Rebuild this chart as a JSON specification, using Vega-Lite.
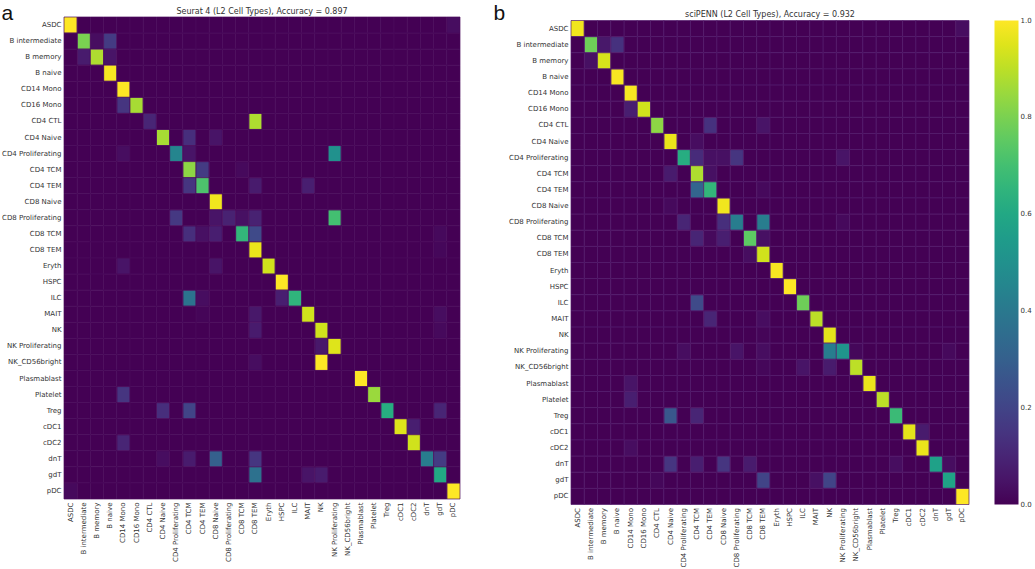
{"$schema":"https://vega.github.io/schema/vega-lite/v6.json","padding":{"left":1,"top":2,"right":0,"bottom":0},"background":"white","spacing":32,
"config":{"view":{"stroke":null},"font":"DejaVu Sans","axis":{"domain":false,"ticks":false,"grid":false,"labelFontSize":7,"labelColor":"#333333","labelPadding":3,"labelFont":"DejaVu Sans"},"title":{"font":"DejaVu Sans","fontSize":8,"fontWeight":"normal","color":"#333333"}},
"resolve":{"scale":{"color":"shared"}},
"hconcat":[
{"width":396,"height":482,"title":{"text":"Seurat 4 (L2 Cell Types), Accuracy = 0.897","offset":3,"dy":16},
"data":{"values":[
{"y":"ASDC","x":"ASDC","v":1},{"y":"ASDC","x":"pDC","v":0.03},
{"y":"B intermediate","x":"B intermediate","v":0.8},{"y":"B intermediate","x":"B memory","v":0.03},{"y":"B intermediate","x":"B naive","v":0.17},
{"y":"B memory","x":"B intermediate","v":0.07},{"y":"B memory","x":"B memory","v":0.88},{"y":"B memory","x":"B naive","v":0.05},
{"y":"B naive","x":"B naive","v":0.99},
{"y":"CD14 Mono","x":"CD14 Mono","v":1},
{"y":"CD16 Mono","x":"CD14 Mono","v":0.15},{"y":"CD16 Mono","x":"CD16 Mono","v":0.87},
{"y":"CD4 CTL","x":"CD4 CTL","v":0.1},{"y":"CD4 CTL","x":"CD8 TEM","v":0.88},
{"y":"CD4 Naive","x":"CD4 Naive","v":0.87},{"y":"CD4 Naive","x":"CD4 TCM","v":0.13},{"y":"CD4 Naive","x":"CD8 Naive","v":0.05},
{"y":"CD4 Proliferating","x":"CD14 Mono","v":0.03},{"y":"CD4 Proliferating","x":"CD4 Proliferating","v":0.45},{"y":"CD4 Proliferating","x":"CD4 TCM","v":0.05},{"y":"CD4 Proliferating","x":"NK Proliferating","v":0.5},
{"y":"CD4 TCM","x":"CD4 TCM","v":0.83},{"y":"CD4 TCM","x":"CD4 TEM","v":0.17},{"y":"CD4 TCM","x":"CD8 TCM","v":0.02},
{"y":"CD4 TEM","x":"CD4 TCM","v":0.15},{"y":"CD4 TEM","x":"CD4 TEM","v":0.72},{"y":"CD4 TEM","x":"CD8 TEM","v":0.07},{"y":"CD4 TEM","x":"MAIT","v":0.08},
{"y":"CD8 Naive","x":"CD8 Naive","v":0.98},
{"y":"CD8 Proliferating","x":"CD4 Proliferating","v":0.16},{"y":"CD8 Proliferating","x":"CD8 Naive","v":0.05},{"y":"CD8 Proliferating","x":"CD8 Proliferating","v":0.09},{"y":"CD8 Proliferating","x":"CD8 TCM","v":0.04},{"y":"CD8 Proliferating","x":"CD8 TEM","v":0.09},{"y":"CD8 Proliferating","x":"NK Proliferating","v":0.7},
{"y":"CD8 TCM","x":"CD4 TCM","v":0.13},{"y":"CD8 TCM","x":"CD4 TEM","v":0.04},{"y":"CD8 TCM","x":"CD8 Naive","v":0.08},{"y":"CD8 TCM","x":"CD8 TCM","v":0.66},{"y":"CD8 TCM","x":"CD8 TEM","v":0.22},{"y":"CD8 TCM","x":"gdT","v":0.02},
{"y":"CD8 TEM","x":"CD8 TEM","v":0.97},{"y":"CD8 TEM","x":"gdT","v":0.015},
{"y":"Eryth","x":"CD14 Mono","v":0.05},{"y":"Eryth","x":"CD8 Naive","v":0.05},{"y":"Eryth","x":"Eryth","v":0.93},
{"y":"HSPC","x":"HSPC","v":1},
{"y":"ILC","x":"CD4 TCM","v":0.38},{"y":"ILC","x":"CD4 TEM","v":0.03},{"y":"ILC","x":"HSPC","v":0.08},{"y":"ILC","x":"ILC","v":0.65},
{"y":"MAIT","x":"CD4 TEM","v":0.01},{"y":"MAIT","x":"CD8 TEM","v":0.06},{"y":"MAIT","x":"MAIT","v":0.93},{"y":"MAIT","x":"gdT","v":0.03},
{"y":"NK","x":"CD8 TEM","v":0.07},{"y":"NK","x":"NK","v":0.93},{"y":"NK","x":"gdT","v":0.02},
{"y":"NK Proliferating","x":"NK","v":0.06},{"y":"NK Proliferating","x":"NK Proliferating","v":0.95},
{"y":"NK_CD56bright","x":"CD8 TEM","v":0.03},{"y":"NK_CD56bright","x":"NK","v":1},
{"y":"Plasmablast","x":"Plasmablast","v":1},
{"y":"Platelet","x":"CD14 Mono","v":0.15},{"y":"Platelet","x":"Platelet","v":0.85},
{"y":"Treg","x":"CD4 Naive","v":0.13},{"y":"Treg","x":"CD4 TCM","v":0.2},{"y":"Treg","x":"Treg","v":0.62},{"y":"Treg","x":"gdT","v":0.1},
{"y":"cDC1","x":"cDC1","v":0.95},{"y":"cDC1","x":"cDC2","v":0.08},
{"y":"cDC2","x":"CD14 Mono","v":0.1},{"y":"cDC2","x":"cDC2","v":0.93},
{"y":"dnT","x":"CD4 Naive","v":0.03},{"y":"dnT","x":"CD4 TCM","v":0.07},{"y":"dnT","x":"CD8 Naive","v":0.3},{"y":"dnT","x":"CD8 TEM","v":0.15},{"y":"dnT","x":"dnT","v":0.42},{"y":"dnT","x":"gdT","v":0.17},
{"y":"gdT","x":"CD8 TEM","v":0.37},{"y":"gdT","x":"MAIT","v":0.05},{"y":"gdT","x":"NK","v":0.07},{"y":"gdT","x":"gdT","v":0.6},
{"y":"pDC","x":"ASDC","v":0.02},{"y":"pDC","x":"pDC","v":1}
]},
"transform":[{"impute":"v","key":"x","groupby":["y"],"value":0,"keyvals":["ASDC","B intermediate","B memory","B naive","CD14 Mono","CD16 Mono","CD4 CTL","CD4 Naive","CD4 Proliferating","CD4 TCM","CD4 TEM","CD8 Naive","CD8 Proliferating","CD8 TCM","CD8 TEM","Eryth","HSPC","ILC","MAIT","NK","NK Proliferating","NK_CD56bright","Plasmablast","Platelet","Treg","cDC1","cDC2","dnT","gdT","pDC"]}],
"mark":{"type":"rect","stroke":"#4a0b5c","strokeWidth":0.7},
"encoding":{
"x":{"field":"x","type":"nominal","title":null,"sort":null,"scale":{"domain":["ASDC","B intermediate","B memory","B naive","CD14 Mono","CD16 Mono","CD4 CTL","CD4 Naive","CD4 Proliferating","CD4 TCM","CD4 TEM","CD8 Naive","CD8 Proliferating","CD8 TCM","CD8 TEM","Eryth","HSPC","ILC","MAIT","NK","NK Proliferating","NK_CD56bright","Plasmablast","Platelet","Treg","cDC1","cDC2","dnT","gdT","pDC"]},"axis":{"labelAngle":-90,"labelAlign":"right","labelBaseline":"middle"}},
"y":{"field":"y","type":"nominal","sort":null,"scale":{"domain":["ASDC","B intermediate","B memory","B naive","CD14 Mono","CD16 Mono","CD4 CTL","CD4 Naive","CD4 Proliferating","CD4 TCM","CD4 TEM","CD8 Naive","CD8 Proliferating","CD8 TCM","CD8 TEM","Eryth","HSPC","ILC","MAIT","NK","NK Proliferating","NK_CD56bright","Plasmablast","Platelet","Treg","cDC1","cDC2","dnT","gdT","pDC"]},"axis":{"title":"a","titleAngle":0,"titleX":-63,"titleY":2.5,"titleAlign":"left","titleBaseline":"alphabetic","titleFontSize":21,"titleFontWeight":"normal","titleFont":"Liberation Sans","titleColor":"#111111"}},
"color":{"field":"v","type":"quantitative","scale":{"scheme":"viridis","domain":[0,1]},"legend":{"title":null,"gradientLength":484,"gradientThickness":24,"tickCount":6,"format":".1f","labelFontSize":7,"labelColor":"#333333","offset":20.5,"padding":3.5,"labelOverlap":false,"encode":{"labels":{"update":{"baseline":{"value":"middle"}}}}}}
}},
{"width":398,"height":487.5,"title":{"text":"sciPENN (L2 Cell Types), Accuracy = 0.932","offset":3,"dy":19.5},
"data":{"values":[
{"y":"ASDC","x":"ASDC","v":0.98},{"y":"ASDC","x":"pDC","v":0.03},
{"y":"B intermediate","x":"B intermediate","v":0.78},{"y":"B intermediate","x":"B memory","v":0.06},{"y":"B intermediate","x":"B naive","v":0.14},
{"y":"B memory","x":"B intermediate","v":0.04},{"y":"B memory","x":"B memory","v":0.94},
{"y":"B naive","x":"B naive","v":0.99},
{"y":"CD14 Mono","x":"CD14 Mono","v":0.99},
{"y":"CD16 Mono","x":"CD14 Mono","v":0.08},{"y":"CD16 Mono","x":"CD16 Mono","v":0.93},
{"y":"CD4 CTL","x":"CD4 CTL","v":0.83},{"y":"CD4 CTL","x":"CD4 TEM","v":0.14},{"y":"CD4 CTL","x":"CD8 TEM","v":0.05},
{"y":"CD4 Naive","x":"CD4 Naive","v":0.97},{"y":"CD4 Naive","x":"CD4 TCM","v":0.03},
{"y":"CD4 Proliferating","x":"CD4 Proliferating","v":0.62},{"y":"CD4 Proliferating","x":"CD4 TCM","v":0.12},{"y":"CD4 Proliferating","x":"CD4 TEM","v":0.04},{"y":"CD4 Proliferating","x":"CD8 Naive","v":0.04},{"y":"CD4 Proliferating","x":"CD8 Proliferating","v":0.15},{"y":"CD4 Proliferating","x":"NK Proliferating","v":0.05},
{"y":"CD4 TCM","x":"CD4 Naive","v":0.07},{"y":"CD4 TCM","x":"CD4 TCM","v":0.88},{"y":"CD4 TCM","x":"CD4 TEM","v":0.04},
{"y":"CD4 TEM","x":"CD4 TCM","v":0.32},{"y":"CD4 TEM","x":"CD4 TEM","v":0.66},{"y":"CD4 TEM","x":"CD8 TEM","v":0.02},
{"y":"CD8 Naive","x":"CD4 Naive","v":0.02},{"y":"CD8 Naive","x":"CD8 Naive","v":0.98},
{"y":"CD8 Proliferating","x":"CD4 Proliferating","v":0.1},{"y":"CD8 Proliferating","x":"CD8 Naive","v":0.13},{"y":"CD8 Proliferating","x":"CD8 Proliferating","v":0.42},{"y":"CD8 Proliferating","x":"CD8 TEM","v":0.42},{"y":"CD8 Proliferating","x":"NK Proliferating","v":0.02},
{"y":"CD8 TCM","x":"CD4 TCM","v":0.1},{"y":"CD8 TCM","x":"CD4 TEM","v":0.02},{"y":"CD8 TCM","x":"CD8 Naive","v":0.08},{"y":"CD8 TCM","x":"CD8 TCM","v":0.75},{"y":"CD8 TCM","x":"CD8 TEM","v":0.04},
{"y":"CD8 TEM","x":"CD8 TCM","v":0.03},{"y":"CD8 TEM","x":"CD8 TEM","v":0.93},
{"y":"Eryth","x":"Eryth","v":0.99},
{"y":"HSPC","x":"HSPC","v":1},
{"y":"ILC","x":"CD4 TCM","v":0.22},{"y":"ILC","x":"ILC","v":0.78},
{"y":"MAIT","x":"CD4 TEM","v":0.1},{"y":"MAIT","x":"CD8 TEM","v":0.03},{"y":"MAIT","x":"MAIT","v":0.9},
{"y":"NK","x":"CD8 TEM","v":0.01},{"y":"NK","x":"NK","v":0.96},
{"y":"NK Proliferating","x":"CD4 Proliferating","v":0.03},{"y":"NK Proliferating","x":"CD8 Proliferating","v":0.05},{"y":"NK Proliferating","x":"CD8 TEM","v":0.03},{"y":"NK Proliferating","x":"NK","v":0.42},{"y":"NK Proliferating","x":"NK Proliferating","v":0.52},{"y":"NK Proliferating","x":"NK_CD56bright","v":0.015},{"y":"NK Proliferating","x":"gdT","v":0.02},
{"y":"NK_CD56bright","x":"CD8 TEM","v":0.015},{"y":"NK_CD56bright","x":"ILC","v":0.05},{"y":"NK_CD56bright","x":"NK","v":0.07},{"y":"NK_CD56bright","x":"NK_CD56bright","v":0.9},
{"y":"Plasmablast","x":"CD14 Mono","v":0.05},{"y":"Plasmablast","x":"Plasmablast","v":0.97},
{"y":"Platelet","x":"CD14 Mono","v":0.08},{"y":"Platelet","x":"Platelet","v":0.9},
{"y":"Treg","x":"CD4 Naive","v":0.27},{"y":"Treg","x":"CD4 TCM","v":0.1},{"y":"Treg","x":"Treg","v":0.68},
{"y":"cDC1","x":"cDC1","v":0.96},{"y":"cDC1","x":"cDC2","v":0.07},
{"y":"cDC2","x":"CD14 Mono","v":0.03},{"y":"cDC2","x":"cDC2","v":0.97},
{"y":"dnT","x":"CD4 Naive","v":0.15},{"y":"dnT","x":"CD4 TCM","v":0.08},{"y":"dnT","x":"CD8 Naive","v":0.15},{"y":"dnT","x":"CD8 TCM","v":0.07},{"y":"dnT","x":"Treg","v":0.03},{"y":"dnT","x":"dnT","v":0.57},{"y":"dnT","x":"gdT","v":0.03},
{"y":"gdT","x":"CD4 CTL","v":0.015},{"y":"gdT","x":"CD8 TEM","v":0.2},{"y":"gdT","x":"MAIT","v":0.04},{"y":"gdT","x":"NK","v":0.2},{"y":"gdT","x":"gdT","v":0.58},
{"y":"pDC","x":"pDC","v":1}
]},
"transform":[{"impute":"v","key":"x","groupby":["y"],"value":0,"keyvals":["ASDC","B intermediate","B memory","B naive","CD14 Mono","CD16 Mono","CD4 CTL","CD4 Naive","CD4 Proliferating","CD4 TCM","CD4 TEM","CD8 Naive","CD8 Proliferating","CD8 TCM","CD8 TEM","Eryth","HSPC","ILC","MAIT","NK","NK Proliferating","NK_CD56bright","Plasmablast","Platelet","Treg","cDC1","cDC2","dnT","gdT","pDC"]}],
"mark":{"type":"rect","stroke":"#521a6b","strokeWidth":0.7},
"encoding":{
"x":{"field":"x","type":"nominal","title":null,"sort":null,"scale":{"domain":["ASDC","B intermediate","B memory","B naive","CD14 Mono","CD16 Mono","CD4 CTL","CD4 Naive","CD4 Proliferating","CD4 TCM","CD4 TEM","CD8 Naive","CD8 Proliferating","CD8 TCM","CD8 TEM","Eryth","HSPC","ILC","MAIT","NK","NK Proliferating","NK_CD56bright","Plasmablast","Platelet","Treg","cDC1","cDC2","dnT","gdT","pDC"]},"axis":{"labelAngle":-90,"labelAlign":"right","labelBaseline":"middle"}},
"y":{"field":"y","type":"nominal","sort":null,"scale":{"range":[3.5,487.5],"domain":["ASDC","B intermediate","B memory","B naive","CD14 Mono","CD16 Mono","CD4 CTL","CD4 Naive","CD4 Proliferating","CD4 TCM","CD4 TEM","CD8 Naive","CD8 Proliferating","CD8 TCM","CD8 TEM","Eryth","HSPC","ILC","MAIT","NK","NK Proliferating","NK_CD56bright","Plasmablast","Platelet","Treg","cDC1","cDC2","dnT","gdT","pDC"]},"axis":{"title":"b","titleAngle":0,"titleX":-78,"titleY":2.5,"titleAlign":"left","titleBaseline":"alphabetic","titleFontSize":21,"titleFontWeight":"normal","titleFont":"Liberation Sans","titleColor":"#111111"}},
"color":{"field":"v","type":"quantitative","scale":{"scheme":"viridis","domain":[0,1]},"legend":{"title":null,"gradientLength":484,"gradientThickness":24,"tickCount":6,"format":".1f","labelFontSize":7,"labelColor":"#333333","offset":20.5,"padding":3.5,"labelOverlap":false,"encode":{"labels":{"update":{"baseline":{"value":"middle"}}}}}}
}}
]}
